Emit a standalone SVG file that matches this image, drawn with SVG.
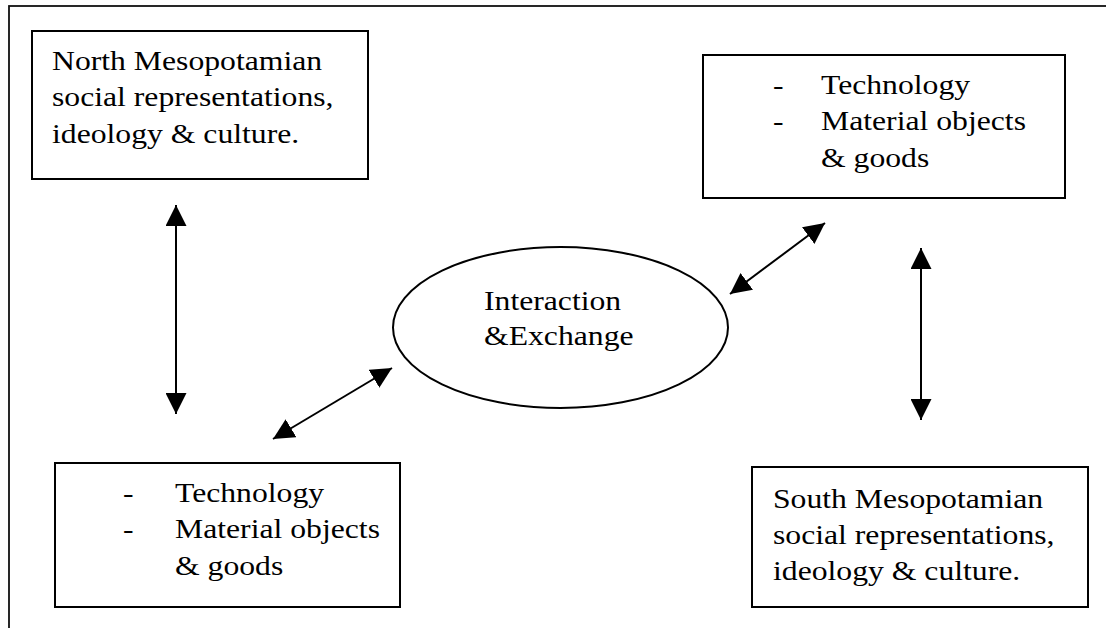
<svg xmlns="http://www.w3.org/2000/svg" width="1106" height="628" viewBox="0 0 1106 628">
<defs>
<style>
.box{fill:#fff;stroke:#000;stroke-width:2}
.frame{fill:#fff;stroke:#111;stroke-width:1.8}
.t{font-family:"Liberation Serif","Times New Roman",serif;font-size:28.3px;fill:#000}
.conn{stroke:#000;stroke-width:2;fill:none;marker-start:url(#ah);marker-end:url(#ah)}
</style>
<marker id="ah" markerUnits="userSpaceOnUse" markerWidth="21" markerHeight="21" viewBox="0 0 20 20" refX="20" refY="10" orient="auto-start-reverse">
<path d="M0,0 L20,10 L0,20 z" fill="#000"/>
</marker>
</defs>
<rect class="frame" x="9" y="6" width="1110" height="640"/>
<g id="north">
<rect class="box" x="32" y="31" width="336" height="148"/>
<text class="t" transform="translate(52,70) scale(1.12,1)"><tspan x="0" y="0">North Mesopotamian</tspan><tspan x="0" y="36.5">social representations,</tspan><tspan x="0" y="73">ideology &amp; culture.</tspan></text>
</g>
<g id="tech-top">
<rect class="box" x="703" y="55" width="362" height="143"/>
<text class="t" transform="translate(773,94) scale(1.12,1)"><tspan x="0" y="0">-</tspan><tspan x="0" y="36.5">-</tspan></text>
<text class="t" transform="translate(821,94) scale(1.12,1)"><tspan x="0" y="0">Technology</tspan><tspan x="0" y="36.5">Material objects</tspan><tspan x="0" y="73">&amp; goods</tspan></text>
</g>
<g id="exchange">
<ellipse class="box" cx="560.5" cy="327.5" rx="167.5" ry="80.5"/>
<text class="t" transform="translate(484,310) scale(1.12,1)"><tspan x="0" y="0">Interaction</tspan><tspan x="0" y="35">&amp;Exchange</tspan></text>
</g>
<g id="tech-bottom">
<rect class="box" x="55" y="463" width="345" height="144"/>
<text class="t" transform="translate(123,502) scale(1.12,1)"><tspan x="0" y="0">-</tspan><tspan x="0" y="36.5">-</tspan></text>
<text class="t" transform="translate(175,502) scale(1.12,1)"><tspan x="0" y="0">Technology</tspan><tspan x="0" y="36.5">Material objects</tspan><tspan x="0" y="73">&amp; goods</tspan></text>
</g>
<g id="south">
<rect class="box" x="752" y="467" width="336" height="140"/>
<text class="t" transform="translate(773,508) scale(1.12,1)"><tspan x="0" y="0">South Mesopotamian</tspan><tspan x="0" y="36">social representations,</tspan><tspan x="0" y="72">ideology &amp; culture.</tspan></text>
</g>
<g id="connectors">
<line class="conn" x1="176" y1="205" x2="176" y2="414"/>
<line class="conn" x1="273" y1="439" x2="392" y2="368"/>
<line class="conn" x1="730" y1="294" x2="825" y2="223"/>
<line class="conn" x1="921" y1="248" x2="921" y2="420"/>
</g>
</svg>
